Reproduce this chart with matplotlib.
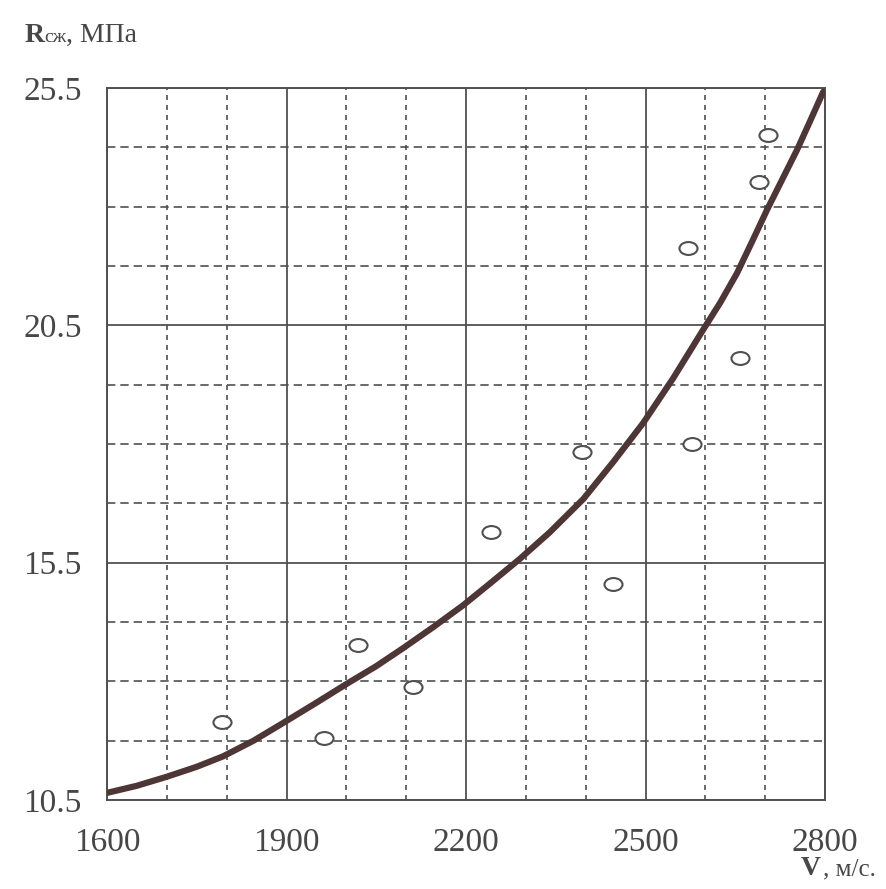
import numpy as np
import matplotlib
matplotlib.use('Agg')
import matplotlib.pyplot as plt
from matplotlib.path import Path
from matplotlib.transforms import Affine2D
from matplotlib.ticker import FixedLocator

# measured points (open circles)
v_pts = [1792, 1963, 2020, 2111, 2242, 2394, 2446, 2578, 2658, 2571, 2690, 2705]
r_pts = [12.14, 11.81, 13.77, 12.88, 16.15, 17.83, 15.05, 18.0, 19.81, 22.13, 23.52, 24.51]

# fitted curve
v_curve = [1600, 1650, 1700, 1750, 1794, 1845, 1894, 1950, 2001, 2050, 2095, 2145, 2195,
           2240, 2290, 2340, 2396, 2446, 2496, 2546, 2596, 2625, 2653, 2678, 2703, 2728,
           2753, 2775, 2797]
r_curve = [10.65, 10.80, 10.99, 11.20, 11.42, 11.75, 12.12, 12.55, 12.95, 13.32, 13.70,
           14.14, 14.60, 15.06, 15.58, 16.14, 16.84, 17.62, 18.44, 19.38, 20.40, 20.98,
           21.6, 22.26, 22.93, 23.56, 24.19, 24.8, 25.42]

x_ticks = [1600, 1900, 2200, 2500, 2800]
x_minor = [1700, 1800, 2000, 2100, 2300, 2400, 2600, 2700]
y_ticks = [10.5, 15.5, 20.5, 25.5]
y_minor = [11.75, 13.0, 14.25, 16.75, 18.0, 19.25, 21.75, 23.0, 24.25]
y_labels = ['10.5', '15.5', '20.5', '25.5']

grid_col = '#505050'
text_col = '#474747'
curve_col = '#4e3636'
serif = ['Liberation Serif', 'DejaVu Serif']

fig = plt.figure(figsize=(8.87, 8.89), dpi=100)
ax = fig.add_axes([107/887, 89/889, 718/887, 712/889])

ax.set_xlim(1600, 2800)
ax.set_ylim(10.5, 25.5)

ax.xaxis.set_major_locator(FixedLocator(x_ticks))
ax.xaxis.set_minor_locator(FixedLocator(x_minor))
ax.yaxis.set_major_locator(FixedLocator(y_ticks))
ax.yaxis.set_minor_locator(FixedLocator(y_minor))
ax.set_yticklabels(y_labels)

ax.grid(which='major', color=grid_col, lw=1.3, ls='-')
ax.xaxis.grid(which='minor', color=grid_col, lw=1.2, ls=(0, (3, 3)))
ax.yaxis.grid(which='minor', color=grid_col, lw=1.2, ls=(0, (5, 3)))
ax.set_axisbelow(True)

for s in ax.spines.values():
    s.set_color(grid_col)
    s.set_linewidth(1.4)

ax.tick_params(which='both', length=0, labelsize=24, labelcolor=text_col)
ax.tick_params(axis='y', pad=18)
ax.tick_params(axis='x', pad=20)
for lab in ax.get_xticklabels() + ax.get_yticklabels():
    lab.set_family(serif)

ax.plot(v_curve, r_curve, color=curve_col, lw=4.5, solid_capstyle='round',
        solid_joinstyle='round', zorder=3)

# circles look a bit wide in the scan
ell = Path.unit_circle().transformed(Affine2D().scale(1.4, 1.0))
ax.plot(v_pts, r_pts, ls='none', marker=ell, ms=13, mfc='white', mec='#505050',
        mew=1.5, zorder=4)

fig.text(25/887, 1 - 42/889, 'R', fontsize=20, fontweight='bold', color=text_col,
         family=serif, ha='left', va='baseline')
fig.text(44/887, 1 - 42/889, 'сж', fontsize=14, color=text_col,
         family=serif, ha='left', va='baseline')
fig.text(66/887, 1 - 42/889, ', МПа', fontsize=20, color=text_col,
         family=serif, ha='left', va='baseline')

fig.text(821/887, 1 - 875/889, 'V', fontsize=20, fontweight='bold', color=text_col,
         family=serif, ha='right', va='baseline')
fig.text(823/887, 1 - 875/889, ', м/с.', fontsize=18, color=text_col,
         family=serif, ha='left', va='baseline')

fig.savefig('out.png', dpi=100)
